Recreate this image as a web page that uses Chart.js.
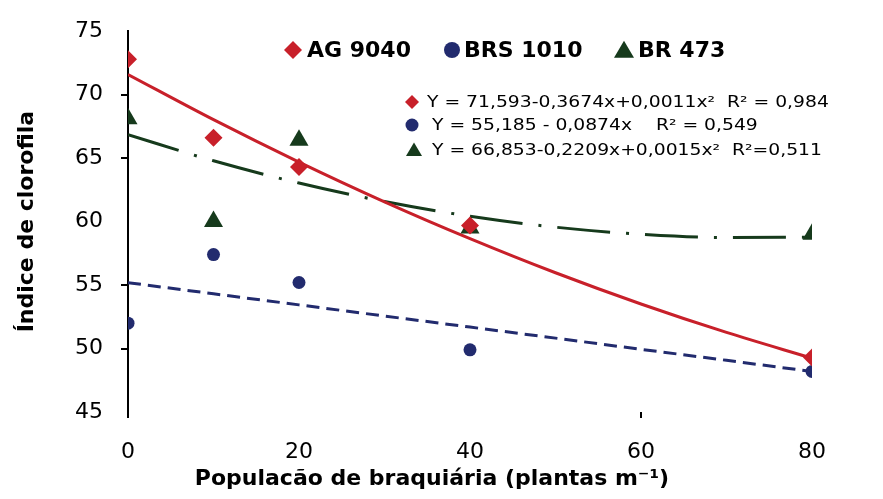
<!DOCTYPE html>
<html><head><meta charset="utf-8">
<script src="https://cdn.jsdelivr.net/npm/chart.js@4.4.1/dist/chart.umd.min.js"></script>
<style>html,body{margin:0;padding:0;background:#fff;} #wrap{width:883px;height:499px;}</style>
</head><body><div id="wrap"><canvas id="c" width="883" height="499"></canvas></div>
<script>
// ---- data ----
const xValues = [0, 10, 20, 40, 80];
const ag9040 = [72.8, 66.6, 64.3, 59.7, 49.3];
const brs1010 = [52.0, 57.4, 55.2, 49.9, 48.2];
const br473 = [68.1, 60.0, 66.4, 59.5, 59.0];
const trendX = [0, 10, 20, 30, 40, 50, 60, 70, 80];
const agTrend = [71.59, 68.03, 64.69, 61.56, 58.66, 55.97, 53.51, 51.27, 49.24];
const brsTrend = [55.19, 54.31, 53.44, 52.56, 51.69, 50.82, 49.94, 49.07, 48.19];
const brTrend = [66.85, 64.79, 63.04, 61.58, 60.42, 59.56, 59.00, 58.74, 58.78];
const seriesNames = ['AG 9040', 'BRS 1010', 'BR 473'];
const equations = [
  'Y = 71,593-0,3674x+0,0011x²  R² = 0,984',
  'Y = 55,185 - 0,0874x    R² = 0,549',
  'Y = 66,853-0,2209x+0,0015x²  R²=0,511'
];
const xTicks = [0, 20, 40, 60, 80];
const yTicks = [45, 50, 55, 60, 65, 70, 75];
const xTitle = 'Populacão de braquiária (plantas m⁻¹)';
const yTitle = 'Índice de clorofila';

const RED = '#C8202A', NAVY = '#222B6E', GREEN = '#163A1C';
const pts = (xs, ys) => xs.map((x, i) => ({x: x, y: ys[i]}));

function drawMarker(ctx, style, x, y, r, color) {
  ctx.fillStyle = color;
  ctx.beginPath();
  if (style === 'diamond') {
    ctx.moveTo(x, y - r); ctx.lineTo(x + r, y); ctx.lineTo(x, y + r); ctx.lineTo(x - r, y);
  } else if (style === 'circle') {
    ctx.arc(x, y, r, 0, Math.PI * 2);
  } else {
    const h = r * 1.7;
    ctx.moveTo(x, y - h * 0.55); ctx.lineTo(x + r, y + h * 0.45); ctx.lineTo(x - r, y + h * 0.45);
  }
  ctx.closePath();
  ctx.fill();
}

const overlay = {
  id: 'overlay',
  afterDraw(chart) {
    const ctx = chart.ctx;
    ctx.save();
    const styles = ['diamond', 'circle', 'triangle'];
    const colors = [RED, NAVY, GREEN];
    // top legend
    const mx = [293, 452, 624], tx = [307, 464, 638], mr = [9, 8, 10];
    ctx.font = 'bold 22px "DejaVu Sans"';
    ctx.textBaseline = 'middle';
    ctx.textAlign = 'left';
    for (let i = 0; i < 3; i++) {
      drawMarker(ctx, styles[i], mx[i], 50, mr[i], colors[i]);
      ctx.fillStyle = '#000';
      ctx.fillText(seriesNames[i], tx[i], 51);
    }
    // equations legend
    const ey = [102, 125, 150], ex = [427, 432, 432], er = [7, 6.5, 8], emx = [412, 412, 414];
    ctx.font = '15px "DejaVu Sans"';
    for (let i = 0; i < 3; i++) {
      drawMarker(ctx, styles[i], emx[i], ey[i], er[i], colors[i]);
      ctx.save();
      ctx.translate(ex[i], ey[i] + 1);
      ctx.scale(1.25, 1);
      ctx.fillStyle = '#000';
      ctx.fillText(equations[i], 0, 0);
      ctx.restore();
    }
    // x axis title
    ctx.font = 'bold 22px "DejaVu Sans"';
    ctx.textAlign = 'center';
    ctx.textBaseline = 'alphabetic';
    ctx.fillStyle = '#000';
    ctx.fillText(xTitle, 432, 485);
    ctx.restore();
  }
};

new Chart(document.getElementById('c'), {
  type: 'scatter',
  data: {
    datasets: [
      {label: seriesNames[0], data: pts(xValues, ag9040), pointStyle: 'rectRot', pointRadius: 9, backgroundColor: RED, borderColor: RED, borderWidth: 0},
      {label: seriesNames[1], data: pts(xValues, brs1010), pointStyle: 'circle', pointRadius: 6.5, backgroundColor: NAVY, borderColor: NAVY, borderWidth: 0},
      {label: seriesNames[2], data: pts(xValues, br473), pointStyle: 'triangle', pointRadius: 11, backgroundColor: GREEN, borderColor: GREEN, borderWidth: 0},
      {label: 'trend AG', data: pts(trendX, agTrend), showLine: true, pointRadius: 0, borderColor: RED, borderWidth: 3, cubicInterpolationMode: 'monotone', fill: false},
      {label: 'trend BRS', data: pts(trendX, brsTrend), showLine: true, pointRadius: 0, borderColor: NAVY, borderWidth: 3, borderDash: [13, 7], fill: false},
      {label: 'trend BR', data: pts(trendX, brTrend), showLine: true, pointRadius: 0, borderColor: GREEN, borderWidth: 3, borderDash: [53, 16, 3, 16], cubicInterpolationMode: 'monotone', fill: false}
    ]
  },
  options: {
    responsive: false,
    animation: false,
    layout: {padding: {left: 0, right: 71, top: 25, bottom: 0}},
    plugins: {legend: {display: false}, tooltip: {enabled: false}},
    scales: {
      x: {
        type: 'linear', min: 0, max: 80,
        afterBuildTicks: s => { s.ticks = xTicks.map(v => ({value: v})); },
        afterFit: s => { s.height = 87; },
        border: {display: false},
        grid: {drawOnChartArea: false, drawTicks: true, tickLength: 6, lineWidth: 2,
          color: c => (c.tick && (c.tick.value === 0 || c.tick.value === 60)) ? '#000' : 'rgba(0,0,0,0)'},
        ticks: {color: '#000', font: {family: 'DejaVu Sans', size: 22}, padding: 21, maxRotation: 0, autoSkip: false}
      },
      y: {
        type: 'linear', min: 45, max: 75,
        afterBuildTicks: s => { s.ticks = yTicks.map(v => ({value: v})); },
        afterFit: s => { s.width = 128; },
        border: {display: true, color: '#000', width: 2},
        grid: {drawOnChartArea: false, drawTicks: true, tickLength: 7, lineWidth: 2,
          color: c => (c.tick && [50, 55, 65, 70].includes(c.tick.value)) ? '#000' : 'rgba(0,0,0,0)'},
        ticks: {color: '#000', font: {family: 'DejaVu Sans', size: 22}, padding: 18, autoSkip: false},
        title: {display: true, text: yTitle, color: '#000', font: {family: 'DejaVu Sans', size: 22, weight: 'bold'}, padding: {top: 14, bottom: 0}}
      }
    }
  },
  plugins: [overlay]
});
</script>
</body></html>
